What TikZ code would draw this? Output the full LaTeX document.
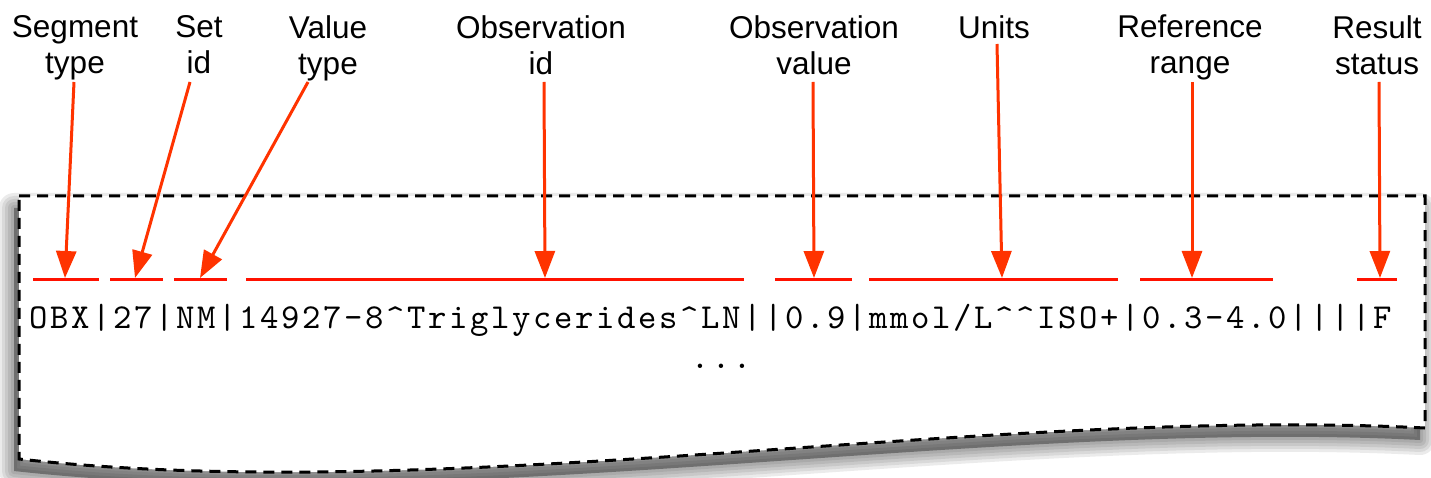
\documentclass[tikz,border=0pt]{standalone}
\usepackage{fontspec}
\setmainfont{Liberation Sans}
\newfontfamily\codefont[LetterSpace=7.5]{lmmono10-regular.otf}
\usetikzlibrary{arrows.meta}
\definecolor{callout}{RGB}{255,51,0}
\definecolor{barred}{RGB}{255,17,0}
\begin{document}
\begin{tikzpicture}[x=1pt,y=-1pt,
  lbl/.style={font=\fontsize{31.5}{36}\selectfont, align=center, anchor=north, inner sep=0pt},
  field/.style={draw=barred, line width=3pt},
  callout/.style={draw=callout, line width=3pt, -{Triangle[length=27pt,width=20pt]}},
  sheet/.style={fill=white, draw=black, line width=3pt, dash pattern=on 11pt off 7pt},
  codetext/.style={font=\codefont\fontsize{35}{40}\selectfont, inner sep=0pt}]
\useasboundingbox (0,0) rectangle (1431,478);

% outline of the torn sheet
\def\sheetpath{(19,196) -- (1425,196) -- (1425,428)
  .. controls (990,406) and (450,507) .. (19,459) -- cycle}

% soft shadow under the sheet
\begin{scope}[shift={(-5,12)}]
  \fill[black, opacity=0.35] \sheetpath;
  \foreach \w in {30,24,18,12,6}
    \draw[black, opacity=0.08, line width=\w pt, line join=round] \sheetpath;
\end{scope}

% the sheet
\draw[sheet] \sheetpath;

% field labels
\node[lbl] (l1) at (75,15)   {Segment\\type};
\node[lbl] (l2) at (199,15)  {Set\\id};
\node[lbl] (l3) at (328,15)  {Value\\type};
\node[lbl] (l4) at (541,15)  {Observation\\id};
\node[lbl] (l5) at (814,15)  {Observation\\value};
\node[lbl] (l6) at (994,15)  {Units};
\node[lbl] (l7) at (1190,15) {Reference\\range};
\node[lbl] (l8) at (1377,15) {Result\\status};

% segment text
\node[codetext, anchor=base west] (rec) at (29,328)
  {OBX|27|NM|14927-8\textasciicircum Triglycerides\textasciicircum LN||0.9|mmol/L\textasciicircum\textasciicircum ISO+|0.3-4.0||||F};
\node[codetext, anchor=base] (more) at (721,368) {...};

% field underlines
\foreach \a/\b in {33/99, 110/163, 174/227, 246/744, 775/852, 869/1118, 1140/1273, 1357/1397}
  \draw[field] (\a,279) -- (\b,279);

% arrow start and end points
\coordinate (s1) at (74,82);   \coordinate (t1) at (65,278);
\coordinate (s2) at (190,82);  \coordinate (t2) at (135,278);
\coordinate (s3) at (308,82);  \coordinate (t3) at (200,278);
\coordinate (s4) at (544,82);  \coordinate (t4) at (545,278);
\coordinate (s5) at (813,82);  \coordinate (t5) at (814,278);
\coordinate (s6) at (997,44);  \coordinate (t6) at (1002,278);
\coordinate (s7) at (1192,82); \coordinate (t7) at (1192,278);
\coordinate (s8) at (1379,82); \coordinate (t8) at (1380,278);

\foreach \i in {1,...,8}
  \draw[callout] (s\i) -- (t\i);
\end{tikzpicture}
\end{document}
